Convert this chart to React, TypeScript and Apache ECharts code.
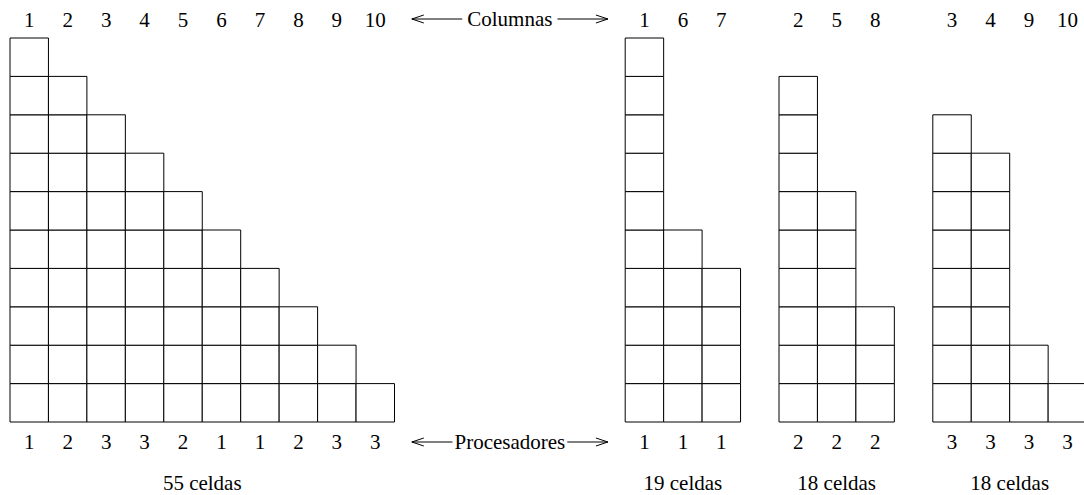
import React, { useEffect, useRef } from "react";
import * as echarts from "echarts";

// ---- data ----
const columnLabels = [1, 2, 3, 4, 5, 6, 7, 8, 9, 10];
const columnHeights = [10, 9, 8, 7, 6, 5, 4, 3, 2, 1];
const processorOf = [1, 2, 3, 3, 2, 1, 1, 2, 3, 3];
const groupColumns = [
  [1, 2, 3, 4, 5, 6, 7, 8, 9, 10],
  [1, 6, 7],
  [2, 5, 8],
  [3, 4, 9, 10],
];
const groupCells = [55, 19, 18, 18];
const axisNotes = ["Columnas", "Procesadores"];

// ---- layout ----
const groupStart = [0, 16, 20, 24];
const UNIT = 38.45;
const X_MIN = -0.1;
const X_MAX = 27.9;
const Y_MIN = -0.1;
const Y_MAX = 10.1;
const FSIZE = 21;
const FONT = `${FSIZE}px 'Liberation Serif', 'Times New Roman', Times, serif`;

function measure(text: string): number {
  const c = document.createElement("canvas").getContext("2d");
  if (!c) return text.length * 9;
  c.font = FONT;
  return c.measureText(text).width;
}

function txt(text: string, x: number, y: number) {
  return {
    type: "text",
    x,
    y,
    style: {
      text,
      font: FONT,
      fill: "#000",
      align: "center",
      verticalAlign: "middle",
    },
  };
}

export default function App() {
  const ref = useRef<HTMLDivElement>(null);
  useEffect(() => {
    document.body.style.margin = "0";
    if (!ref.current) return;
    const chart = echarts.init(ref.current, undefined, { renderer: "svg" });

    const columnItems: any[] = [];
    groupColumns.forEach((cols, g) => {
      cols.forEach((col, i) => {
        const idx = columnLabels.indexOf(col);
        columnItems.push([groupStart[g] + i, columnHeights[idx], col, processorOf[idx]]);
      });
    });
    const groupItems = groupCells.map((n, g) => [groupStart[g] + groupColumns[g].length / 2, n]);
    const noteItems = axisNotes.map((t, i) => [(10 + 16) / 2, i]);

    chart.setOption({
      animation: false,
      textStyle: { fontFamily: "'Liberation Serif', 'Times New Roman', serif" },
      grid: {
        left: 10 + X_MIN * UNIT,
        top: 38 - (Y_MAX - 10) * 38.4,
        width: (X_MAX - X_MIN) * UNIT,
        height: (Y_MAX - Y_MIN) * 38.4,
      },
      xAxis: { type: "value", min: X_MIN, max: X_MAX, show: false },
      yAxis: { type: "value", min: Y_MIN, max: Y_MAX, show: false },
      series: [
        {
          type: "custom",
          clip: true,
          data: columnItems,
          renderItem: (params: any, api: any) => {
            const x = api.value(0);
            const h = api.value(1);
            const size = api.size([1, 1]);
            const children: any[] = [];
            for (let r = 0; r < h; r++) {
              const p = api.coord([x, r + 1]);
              children.push({
                type: "rect",
                shape: { x: p[0], y: p[1], width: size[0], height: size[1] },
                style: { fill: "#fff", stroke: "#000", lineWidth: 1 },
              });
            }
            return { type: "group", children };
          },
        },
        {
          type: "custom",
          data: columnItems,
          renderItem: (params: any, api: any) => {
            const x = api.value(0);
            const top = api.coord([x + 0.5, 10]);
            const bot = api.coord([x + 0.5, 0]);
            return {
              type: "group",
              children: [
                txt(String(api.value(2)), top[0], top[1] - 18),
                txt(String(api.value(3)), bot[0], bot[1] + 20),
              ],
            };
          },
        },
        {
          type: "custom",
          data: groupItems,
          renderItem: (params: any, api: any) => {
            const p = api.coord([api.value(0), 0]);
            return txt(`${api.value(1)} celdas`, p[0], p[1] + 61);
          },
        },
        {
          type: "custom",
          data: noteItems,
          renderItem: (params: any, api: any) => {
            const label = axisNotes[params.dataIndex];
            const pos = params.dataIndex;
            const c = pos === 0 ? api.coord([api.value(0), 10]) : api.coord([api.value(0), 0]);
            const y = pos === 0 ? c[1] - 19 : c[1] + 20;
            const left = api.coord([10.45, 0])[0];
            const right = api.coord([15.55, 0])[0];
            const w = measure(label);
            const gap = pos === 0 ? 5 : 2;
            const tl = c[0] - w / 2 - gap;
            const tr = c[0] + w / 2 + gap;
            const st = { stroke: "#000", lineWidth: 1, fill: "none" };
            return {
              type: "group",
              children: [
                { type: "line", shape: { x1: left, y1: y, x2: tl, y2: y }, style: st },
                { type: "line", shape: { x1: tr, y1: y, x2: right, y2: y }, style: st },
                {
                  type: "polyline",
                  shape: { points: [[left + 12, y - 4], [left, y], [left + 12, y + 4]] },
                  style: st,
                },
                {
                  type: "polyline",
                  shape: { points: [[right - 12, y - 4], [right, y], [right - 12, y + 4]] },
                  style: st,
                },
                txt(label, c[0], y),
              ],
            };
          },
        },
      ],
    });
    return () => chart.dispose();
  }, []);
  return <div ref={ref} style={{ width: 1084, height: 495, background: "#fff" }} />;
}
